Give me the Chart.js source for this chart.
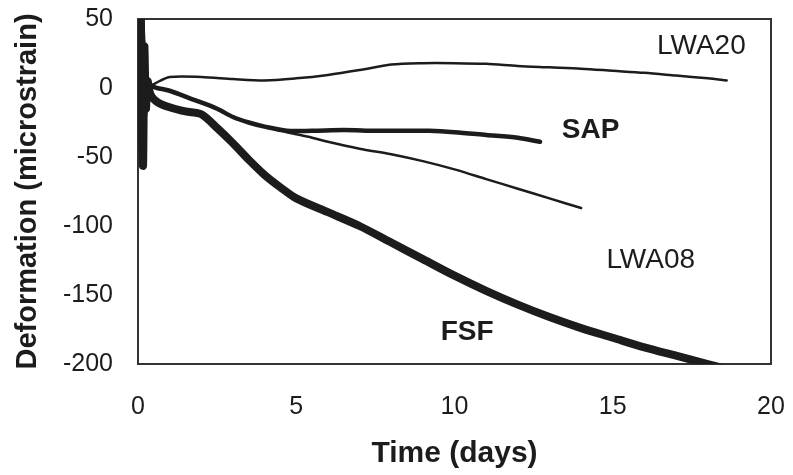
<!DOCTYPE html>
<html>
<head>
<meta charset="utf-8">
<script src="https://cdn.jsdelivr.net/npm/chart.js@4"></script>
<style>
  html, body { margin: 0; padding: 0; background: #fff; }
  #wrap { width: 793px; height: 475px; }
</style>
</head>
<body>
<div id="wrap"><canvas id="deformChart"></canvas></div>
<script>
// time (days) and deformation (microstrain)
var fsfT = [0, 0.03, 0.06, 0.09, 0.12, 0.16, 0.2, 0.25, 0.3, 0.4, 0.6, 1.0, 1.5, 2.0, 2.5, 3.0, 3.5, 4.0, 4.5, 5.0, 6.0, 7.0, 8.0, 9.0, 10.0, 11.0, 12.0, 13.0, 14.0, 15.0, 16.0, 17.0, 18.0, 18.5];
var fsfD = [0, 60, -30, 58, -25, -56, 30, -15, 5, -5, -10, -14, -17, -19, -29, -40, -52, -63, -72, -80, -90, -100, -112, -124, -136, -147, -157, -166, -174, -181, -188, -194, -200, -203];

var sapT = [0, 0.05, 0.1, 0.15, 0.22, 0.3, 0.6, 1.0, 1.7, 2.5, 3.0, 3.5, 4.0, 4.7, 5.5, 6.5, 7.5, 8.5, 9.2, 10.0, 11.0, 12.0, 12.7];
var sapD = [0, 45, -35, 40, -20, 2, 0, -2, -8, -15, -21, -25, -28, -31, -31, -30.5, -31, -31, -31, -32, -34, -36, -39];

var lwa08T = [0, 0.05, 0.1, 0.18, 0.28, 0.35, 0.6, 1.0, 1.7, 2.5, 3.0, 3.5, 4.0, 4.7, 5.5, 6.0, 7.0, 8.0, 9.0, 10.0, 11.0, 12.0, 13.0, 14.0];
var lwa08D = [0, 50, -20, 35, -10, 0, 0, -2, -8, -15, -21, -25, -28, -32, -36, -39, -44, -48, -53, -59, -66, -73, -80, -87];

var lwa20T = [0, 0.05, 0.1, 0.2, 0.28, 0.35, 0.6, 1.0, 2.0, 3.0, 4.0, 5.0, 6.0, 7.0, 8.0, 9.0, 10.0, 11.0, 12.0, 13.0, 14.0, 15.0, 16.0, 17.0, 18.0, 18.6];
var lwa20D = [0, 40, -45, 27, -16, 0, 4, 8, 8, 6.5, 5.5, 7, 9.5, 13, 17, 18, 18, 17.5, 16, 15, 14, 12.5, 11, 9, 7, 5.5];

var xTicks = [0, 5, 10, 15, 20];
var yTicks = [50, 0, -50, -100, -150, -200];

var curveLabels = [
  { text: 'LWA20', x: 17.8, y: 30, bold: false },
  { text: 'SAP', x: 14.3, y: -30.5, bold: true },
  { text: 'LWA08', x: 16.2, y: -125, bold: false },
  { text: 'FSF', x: 10.4, y: -177, bold: true }
];

function toPoints(t, d) {
  return t.map(function (v, i) { return { x: v, y: d[i] }; });
}

var ink = '#1c1c1c';
var fontFamily = "'Liberation Sans', Arial, sans-serif";

var frameAndLabels = {
  id: 'frameAndLabels',
  beforeDatasetsDraw: function (chart) {
    var a = chart.chartArea, ctx = chart.ctx;
    ctx.save();
    ctx.strokeStyle = '#333';
    ctx.lineWidth = 2;
    ctx.strokeRect(a.left, a.top, a.right - a.left, a.bottom - a.top);
    ctx.restore();
  },
  afterDatasetsDraw: function (chart) {
    var ctx = chart.ctx, xs = chart.scales.x, ys = chart.scales.y;
    ctx.save();
    ctx.fillStyle = ink;
    ctx.textAlign = 'center';
    ctx.textBaseline = 'middle';
    curveLabels.forEach(function (l) {
      ctx.font = (l.bold ? 'bold ' : '') + '28px ' + fontFamily;
      ctx.fillText(l.text, xs.getPixelForValue(l.x), ys.getPixelForValue(l.y));
    });
    ctx.restore();
  }
};

function noEdgePadding(s) {
  s.paddingTop = 0;
  s.paddingBottom = 0;
  s.paddingLeft = 0;
  s.paddingRight = 0;
}

var ctx = document.getElementById('deformChart').getContext('2d');
var chart = new Chart(ctx, {
  type: 'line',
  data: {
    datasets: [{
      label: 'LWA20',
      data: toPoints(lwa20T, lwa20D),
      borderColor: ink,
      borderWidth: 2.5,
      clip: 0
    }, {
      label: 'LWA08',
      data: toPoints(lwa08T, lwa08D),
      borderColor: ink,
      borderWidth: 2.5,
      clip: 0
    }, {
      label: 'SAP',
      data: toPoints(sapT, sapD),
      borderColor: ink,
      borderWidth: 4.5,
      clip: 0
    }, {
      label: 'FSF',
      data: toPoints(fsfT, fsfD),
      borderColor: ink,
      borderWidth: 8,
      clip: 0
    }]
  },
  options: {
    responsive: true,
    maintainAspectRatio: false,
    animation: false,
    layout: { padding: { top: 19, right: 22, left: 0, bottom: 0 } },
    elements: {
      point: { radius: 0 },
      line: { tension: 0.3, fill: false, borderJoinStyle: 'round', borderCapStyle: 'round' }
    },
    plugins: {
      legend: { display: false },
      tooltip: { enabled: false }
    },
    scales: {
      x: {
        type: 'linear',
        min: 0,
        max: 20,
        afterFit: function (s) { s.height = 111; noEdgePadding(s); },
        afterBuildTicks: function (s) { s.ticks = xTicks.map(function (v) { return { value: v }; }); },
        grid: { display: false, drawTicks: false },
        border: { display: false },
        ticks: {
          padding: 28,
          color: ink,
          font: { family: fontFamily, size: 25 }
        },
        title: {
          display: true,
          text: 'Time (days)',
          color: ink,
          padding: { top: 0, bottom: 3 },
          font: { family: fontFamily, size: 30, weight: 'bold' }
        }
      },
      y: {
        type: 'linear',
        min: -200,
        max: 50,
        afterFit: function (s) { s.width = 138; noEdgePadding(s); },
        afterBuildTicks: function (s) { s.ticks = yTicks.map(function (v) { return { value: v }; }); },
        grid: { display: false, drawTicks: false },
        border: { display: false },
        ticks: {
          padding: 25,
          color: ink,
          font: { family: fontFamily, size: 25 }
        },
        title: {
          display: true,
          text: 'Deformation (microstrain)',
          color: ink,
          padding: { top: 11, bottom: 0 },
          font: { family: fontFamily, size: 29, weight: 'bold' }
        }
      }
    }
  },
  plugins: [frameAndLabels]
});
</script>
</body>
</html>
